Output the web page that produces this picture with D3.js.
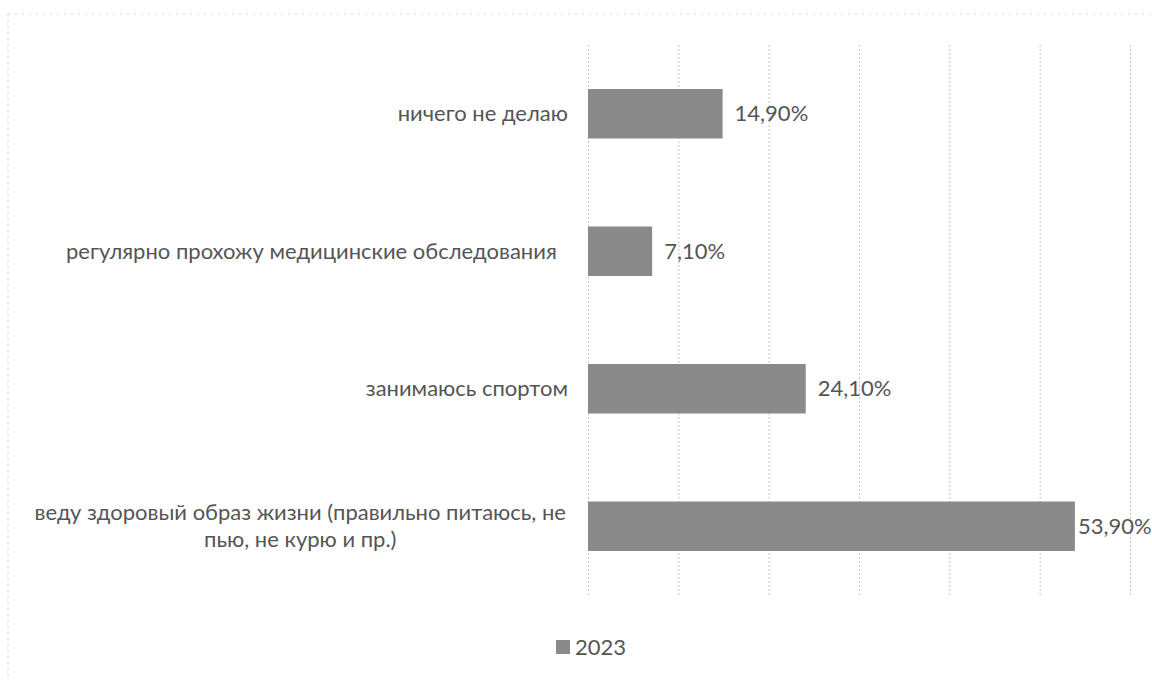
<!DOCTYPE html>
<html><head><meta charset="utf-8">
<script src="https://cdn.jsdelivr.net/npm/d3@7"></script>
<style>html,body{margin:0;padding:0;background:#fff;}svg{display:block;}text{white-space:pre;}</style>
</head><body>
<svg id="c" width="1152" height="680"></svg>
<script>
const categories = [
  ["ничего не делаю"],
  ["регулярно прохожу медицинские обследования  "],
  ["занимаюсь спортом"],
  ["веду здоровый образ жизни (правильно питаюсь, не", "пью, не курю и пр."+")"]
];
const values2023 = [14.9, 7.1, 24.1, 53.9];
const valueLabels = ["14,90%", "7,10%", "24,10%", "53,90%"];
const xTicks = [0, 10, 20, 30, 40, 50, 60];
const seriesName = "2023";

const svg = d3.select("#c");
const font = "Lato, 'Open Sans', sans-serif";
const fs = 22;
const m = {left: 588, right: 22, top: 45, bottom: 85};
const W = 1152, H = 680;

// chart frame (faint)
svg.append("line").attr("x1", 8).attr("x2", W).attr("y1", 14).attr("y2", 14)
  .attr("stroke", "#d4d4d4").attr("stroke-dasharray", "2,5");
svg.append("line").attr("x1", 8).attr("x2", 8).attr("y1", 14).attr("y2", H)
  .attr("stroke", "#d4d4d4").attr("stroke-dasharray", "2,4");

const x = d3.scaleLinear().domain([0, 60]).range([m.left, W - m.right]);
const y = d3.scaleBand().domain(d3.range(categories.length))
  .range([m.top, H - m.bottom]).paddingInner(0.64).paddingOuter(0.32);

// gridlines
svg.append("g").attr("transform", `translate(0,${H - m.bottom})`)
  .call(d3.axisBottom(x).tickValues(xTicks).tickSize(-(H - m.bottom - m.top)).tickFormat(""))
  .call(g => g.select(".domain").remove())
  .call(g => g.selectAll(".tick line").attr("stroke", "#c4c4c4").attr("stroke-dasharray", "2,2"));

// bars
svg.append("g").selectAll("rect").data(values2023).join("rect")
  .attr("x", x(0)).attr("y", (d, i) => y(i))
  .attr("width", d => x(d) - x(0)).attr("height", y.bandwidth())
  .attr("fill", "#8a8a8a");

// value labels
svg.append("g").selectAll("text").data(values2023).join("text")
  .attr("x", (d, i) => x(d) + (i === 3 ? 3 : 12))
  .attr("y", (d, i) => y(i) + y.bandwidth() / 2)
  .attr("dy", "0.35em")
  .attr("font-family", font).attr("font-size", fs).attr("fill", "#555")
  .text((d, i) => valueLabels[i]);

// category labels
const lab = svg.append("g");
categories.forEach((lines, i) => {
  const cy = y(i) + y.bandwidth() / 2;
  const lh = 27;
  const t = lab.append("text").attr("font-family", font).attr("font-size", fs).attr("fill", "#555");
  if (lines.length === 1) {
    t.attr("x", 568).attr("y", cy).attr("dy", "0.35em").attr("text-anchor", "end").text(lines[0]);
  } else {
    const tmp = t.append("tspan").text(lines[0]);
    const w = tmp.node().getComputedTextLength();
    tmp.remove();
    const cx = 566 - w / 2;
    lines.forEach((s, k) => {
      t.append("tspan").attr("x", cx).attr("text-anchor", "middle")
        .attr("y", cy + (k - (lines.length - 1) / 2) * lh).attr("dy", "0.35em").text(s);
    });
  }
});

// legend
const lg = svg.append("g");
lg.append("rect").attr("x", 556).attr("y", 640).attr("width", 14).attr("height", 14).attr("fill", "#8a8a8a");
lg.append("text").attr("x", 575).attr("y", 647).attr("dy", "0.35em")
  .attr("font-family", font).attr("font-size", fs).attr("fill", "#555").text(seriesName);
</script>
</body></html>
